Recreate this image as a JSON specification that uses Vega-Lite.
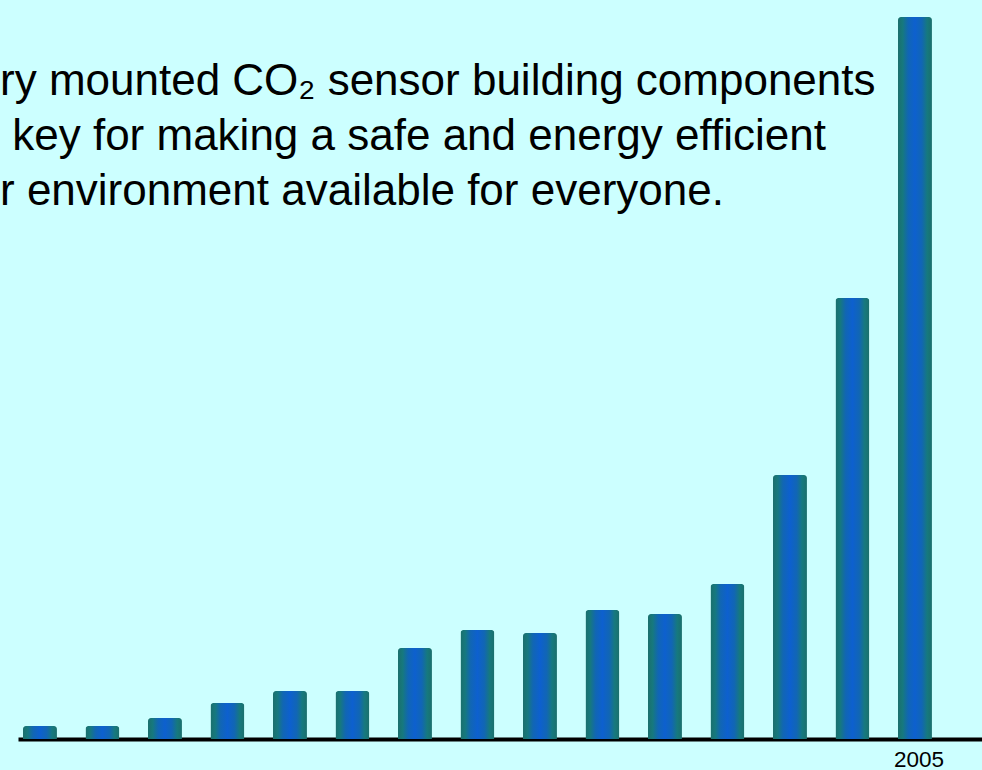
{
  "$schema": "https://vega.github.io/schema/vega-lite/v6.json",
  "width": 964,
  "height": 739,
  "autosize": {"type": "none"},
  "padding": {"left": 18, "top": 0, "right": 0, "bottom": 31},
  "background": "#ccffff",
  "config": {"view": {"stroke": null}, "font": "Liberation Sans"},
  "title": {
    "text": ["ry mounted CO₂ sensor building components", "\u200b\u00a0key for making a safe and energy efficient", "r environment available for everyone."],
    "orient": "top",
    "anchor": "start",
    "frame": "group",
    "offset": -214,
    "dx": -18,
    "fontSize": 44,
    "fontWeight": "normal",
    "font": "Liberation Sans",
    "color": "#000000",
    "lineHeight": 55
  },
  "data": {
    "values": [
      {"year": "1991", "value": 13},
      {"year": "1992", "value": 13},
      {"year": "1993", "value": 21},
      {"year": "1994", "value": 36},
      {"year": "1995", "value": 48},
      {"year": "1996", "value": 48},
      {"year": "1997", "value": 91},
      {"year": "1998", "value": 109},
      {"year": "1999", "value": 106},
      {"year": "2000", "value": 129},
      {"year": "2001", "value": 125},
      {"year": "2002", "value": 155},
      {"year": "2003", "value": 264},
      {"year": "2004", "value": 441},
      {"year": "2005", "value": 722}
    ]
  },
  "mark": {
    "type": "bar",
    "cornerRadiusTopLeft": 3,
    "cornerRadiusTopRight": 3,
    "color": {
      "gradient": "linear",
      "x1": 0, "x2": 1, "y1": 0, "y2": 0,
      "stops": [
        {"offset": 0, "color": "#1b6f6c"},
        {"offset": 0.14, "color": "#16797e"},
        {"offset": 0.3, "color": "#1166b4"},
        {"offset": 0.5, "color": "#0d60cf"},
        {"offset": 0.7, "color": "#1166b4"},
        {"offset": 0.86, "color": "#16797e"},
        {"offset": 1, "color": "#1b6f6c"}
      ]
    }
  },
  "encoding": {
    "x": {
      "field": "year",
      "type": "ordinal",
      "scale": {"paddingInner": 0.456, "paddingOuter": 0.44, "align": 0.09},
      "axis": {
        "title": null,
        "values": ["2005"],
        "ticks": false,
        "domainColor": "#000000",
        "domainWidth": 4,
        "labelFontSize": 22.5,
        "labelFont": "Liberation Sans",
        "labelColor": "#000000",
        "labelPadding": 9,
        "labelOffset": 4,
        "labelAngle": 0
      }
    },
    "y": {
      "field": "value",
      "type": "quantitative",
      "scale": {"domain": [0, 739], "nice": false},
      "axis": null
    }
  }
}
